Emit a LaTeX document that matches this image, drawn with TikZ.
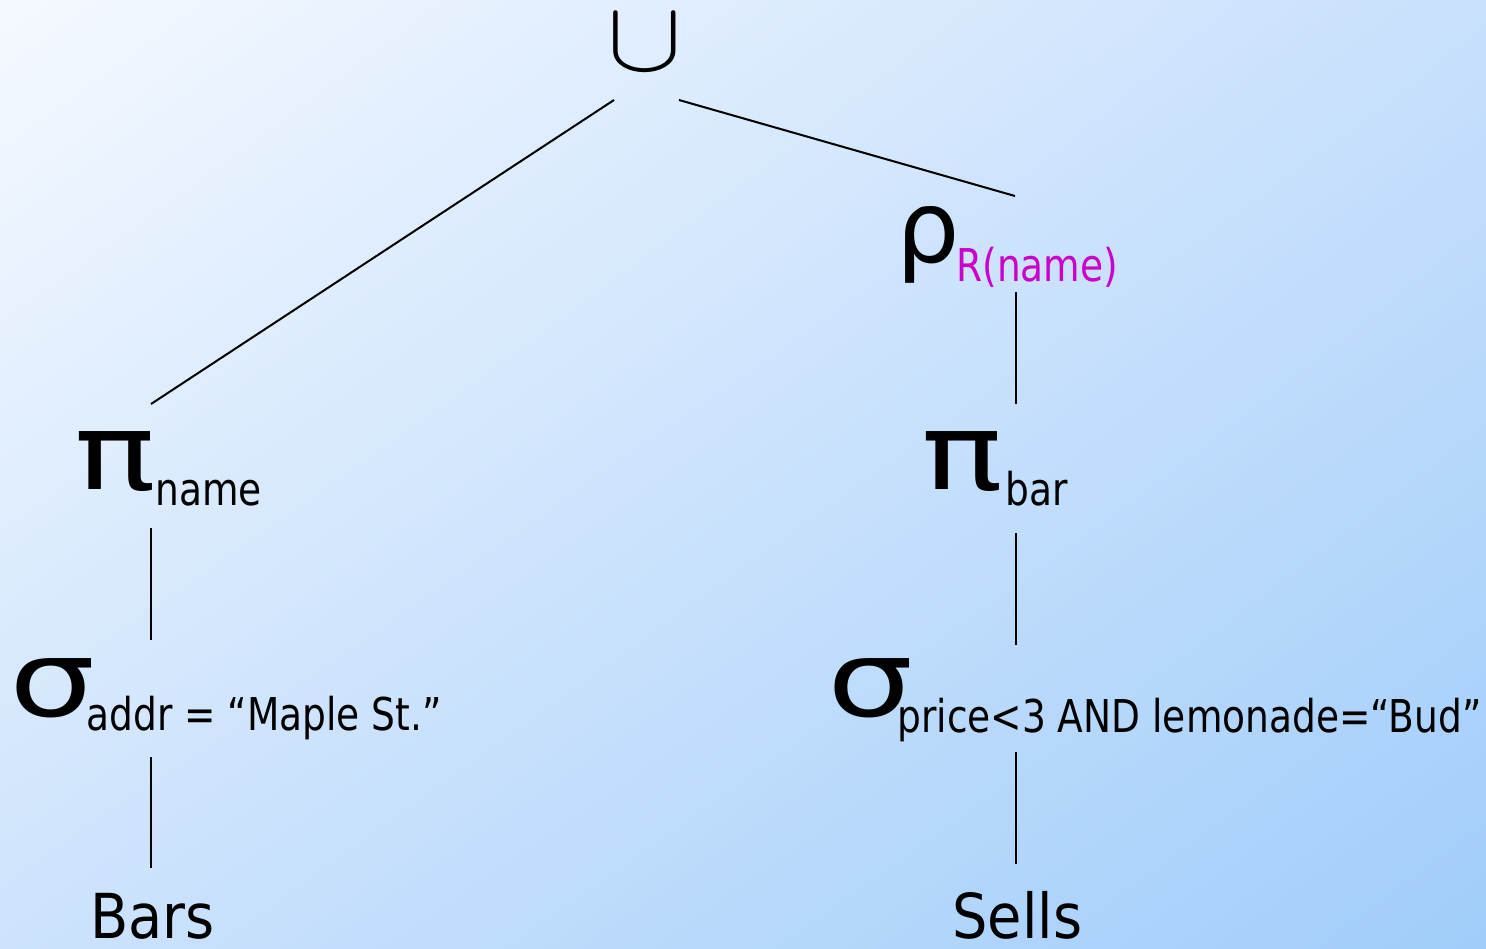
\documentclass[tikz,border=0pt]{standalone}
\usepackage{fontspec}
\usetikzlibrary{shadings}
\setmainfont{DejaVu Sans}
\newfontfamily\subf{DejaVu Sans}[FakeStretch=0.83]
\newfontfamily\mainf{DejaVu Sans}[FakeStretch=0.9]
\newfontfamily\gkf{DejaVu Sans}
\newfontfamily\gkw{DejaVu Sans}[FakeStretch=1.28]
\definecolor{bgTL}{RGB}{245,249,255}
\definecolor{bgTR}{RGB}{200,224,252}
\definecolor{bgBL}{RGB}{205,227,252}
\definecolor{bgBR}{RGB}{160,205,250}
\definecolor{renam}{RGB}{204,0,204}
\tikzset{
  lbl/.style={inner sep=0pt, anchor=base west, font=\mainf\fontsize{31}{31}\selectfont},
  gk/.style={inner sep=0pt, anchor=base west, font=\gkf\fontsize{50}{50}\selectfont},
  gkwide/.style={inner sep=0pt, anchor=base west, font=\gkw\fontsize{53}{53}\selectfont},
  subtx/.style={inner sep=0pt, anchor=base west, font=\subf\fontsize{22.6}{22.6}\selectfont},
  edge/.style={draw=black, line width=1pt}
}
\begin{document}
\begin{tikzpicture}[x=0.5pt,y=-0.5pt]
\useasboundingbox (0,0) rectangle (1486,948);
\shade[upper left=bgTL, upper right=bgTR, lower left=bgBL, lower right=bgBR] (0,0) rectangle (1486,948);
% operators
\node[inner sep=0pt, anchor=base] (cup) at (645,70) {\scalebox{5.6}[5.0]{$\cup$}};
\node[gk] (rho) at (896,262) {ρ};
\node[subtx, text=renam] (rhosub) at (956,281) {R(name)};
\node[gkwide] (pin) at (74,489) {π};
\node[subtx] (pinsub) at (155,505) {name};
\node[gkwide] (pib) at (921,489) {π};
\node[subtx] (pibsub) at (1005,505) {bar};
\node[gkwide] (sga) at (9,716) {σ};
\node[subtx] (sgasub) at (86,730) {addr = “Maple St.”};
\node[gkwide] (sgp) at (827,716) {σ};
\node[subtx] (sgpsub) at (897,732) {price<3 AND lemonade=“Bud”};
\node[lbl] (bars) at (90,938) {Bars};
\node[lbl] (sells) at (952,938) {Sells};
% connector ends
\coordinate (cupL) at (614,100);
\coordinate (cupR) at (679,100);
\coordinate (pinT) at (151,404);
\coordinate (rhoT) at (1015,196);
\coordinate (rhoB) at (1016,292);
\coordinate (pibT) at (1016,404);
\coordinate (pinB) at (151,528);
\coordinate (sgaT) at (151,640);
\coordinate (sgaB) at (151,757);
\coordinate (barsT) at (151,868);
\coordinate (pibB) at (1016,533);
\coordinate (sgpT) at (1016,645);
\coordinate (sgpB) at (1016,752);
\coordinate (sellsT) at (1016,864);
\draw[edge] (cupL) -- (pinT);
\draw[edge] (cupR) -- (rhoT);
\draw[edge] (rhoB) -- (pibT);
\draw[edge] (pinB) -- (sgaT);
\draw[edge] (sgaB) -- (barsT);
\draw[edge] (pibB) -- (sgpT);
\draw[edge] (sgpB) -- (sellsT);
\end{tikzpicture}
\end{document}
